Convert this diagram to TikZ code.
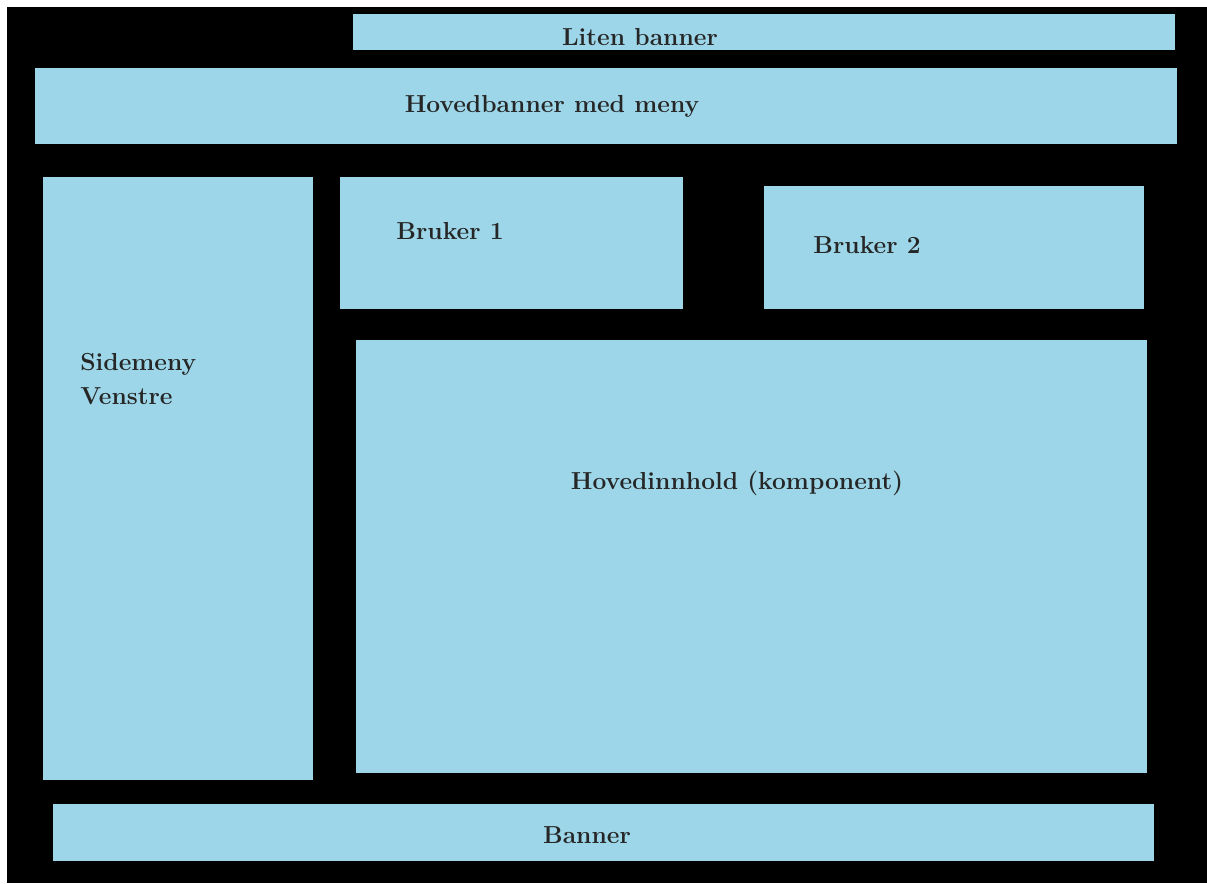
\documentclass[tikz,border=0pt]{standalone}
\usepackage{tikz}
\definecolor{boxcolor}{RGB}{156, 214, 232}
\definecolor{framecolor}{RGB}{0, 0, 0}
\tikzset{
	box/.style={fill=boxcolor, draw=none, inner sep=0pt, anchor=center},
	boxtext/.style={font=\fontsize{14}{19.8}\selectfont\bfseries, inner sep=0pt, text=black!85}
}

\begin{document}
\begin{tikzpicture}[x=0.02cm, y=-0.02cm]
	\useasboundingbox (0,0) rectangle (1207,883);
	\fill[white] (0,0) rectangle (1207,883);
	\fill[framecolor] (7,7) rectangle (1207,883);
	% boxes
	\node[box, minimum width=16.44cm, minimum height=0.72cm] (liten) at (764,32) {};
	\node[box, minimum width=22.84cm, minimum height=1.52cm] (hoved) at (606,106) {};
	\node[box, minimum width=5.4cm, minimum height=12.06cm] (sidemeny) at (178,478.5) {};
	\node[box, minimum width=6.86cm, minimum height=2.64cm] (bruker1) at (511.5,243) {};
	\node[box, minimum width=7.6cm, minimum height=2.46cm] (bruker2) at (954,247.5) {};
	\node[box, minimum width=15.82cm, minimum height=8.66cm] (innhold) at (751.5,556.5) {};
	\node[box, minimum width=22.02cm, minimum height=1.14cm] (banner) at (603.5,832.5) {};
	% texts
	\node[boxtext] (litentxt) at (640,37) {Liten banner};
	\node[boxtext] (hovedtxt) at (552,106) {Hovedbanner med meny};
	\node[boxtext, anchor=west, align=left] (sidetxt) at (80,379) {Sidemeny\\Venstre};
	\node[boxtext] (bruker1txt) at (450,231) {Bruker 1};
	\node[boxtext] (bruker2txt) at (867,245) {Bruker 2};
	\node[boxtext] (innholdtxt) at (737,483) {Hovedinnhold (komponent)};
	\node[boxtext] (bannertxt) at (587,835) {Banner};
\end{tikzpicture}
\end{document}
